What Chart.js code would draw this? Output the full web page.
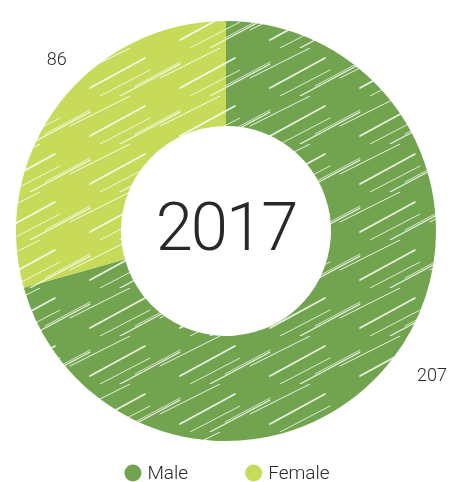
<!DOCTYPE html>
<html><head><meta charset="utf-8">
<script src="https://cdn.jsdelivr.net/npm/chart.js@4/dist/chart.umd.min.js"></script>
<style>html,body{margin:0;padding:0;background:#fff}#wrap{width:452px;height:482px}</style>
</head><body><div id="wrap"><canvas id="c" width="452" height="482"></canvas></div>
<script>
const categories = ["Male", "Female"];
const values = [207, 86];
const centerTitle = "2017";
const colors = ["#72a44f", "#c8da5a"];

function sketchPattern(col){
  const p = document.createElement('canvas');
  p.width = 90; p.height = 48;
  const g = p.getContext('2d');
  g.fillStyle = col; g.fillRect(0,0,90,48);
  g.strokeStyle = 'rgba(255,255,255,0.85)';
  g.lineCap = 'round';
  const lines = [[0,40,55,10,1.6],[30,48,90,16,1.2],[-20,30,40,0,1],[45,38,90,14,0.8],[10,48,60,22,0.9]];
  for(const [x1,y1,x2,y2,w] of lines){g.lineWidth=w;
    for(const off of [-90,0,90]){g.beginPath();g.moveTo(x1+off,y1);g.lineTo(x2+off,y2);g.stroke();}}
  return g.createPattern(p,'repeat');
}

const FONT = 'Roboto, "Open Sans", sans-serif';
const TEXT = '#2b2728';
const labelTweak = [{da:-2, dr:42},{da:8, dr:30}];
const extras = {
  id:'extras',
  afterDraw(chart){
    const ctx = chart.ctx;
    const meta = chart.getDatasetMeta(0);
    const a0 = meta.data[0];
    ctx.save();
    ctx.fillStyle = TEXT;
    ctx.textAlign = 'center'; ctx.textBaseline = 'middle';
    ctx.font = '300 67px ' + FONT;
    if ('letterSpacing' in ctx) ctx.letterSpacing = '-2px';
    ctx.fillText(centerTitle, a0.x, a0.y + 2);
    if ('letterSpacing' in ctx) ctx.letterSpacing = '0px';
    ctx.font = '300 18px ' + FONT;
    meta.data.forEach((arc,i)=>{
      const mid = (arc.startAngle + arc.endAngle)/2 + labelTweak[i].da*Math.PI/180;
      const r = arc.outerRadius + labelTweak[i].dr;
      ctx.fillText(String(values[i]), arc.x + Math.cos(mid)*r, arc.y + Math.sin(mid)*r);
    });
    // legend
    ctx.font = '300 19px ' + FONT;
    ctx.textAlign = 'left';
    const rad = 8.5, gap = 6, spacing = 57;
    const widths = categories.map(c => 2*rad + gap + ctx.measureText(c).width);
    const total = widths.reduce((a,b)=>a+b,0) + spacing*(categories.length-1);
    let x = chart.width/2 - total/2 + 1;
    const y = 473;
    categories.forEach((c,i)=>{
      ctx.fillStyle = colors[i];
      ctx.beginPath(); ctx.arc(x+rad, y, rad, 0, Math.PI*2); ctx.fill();
      ctx.fillStyle = TEXT;
      ctx.fillText(c, x + 2*rad + gap, y + 1);
      x += widths[i] + spacing;
    });
    ctx.restore();
  }
};

new Chart(document.getElementById('c'), {
  type:'doughnut',
  data:{labels:categories, datasets:[{data:values, backgroundColor:colors.map(sketchPattern), borderWidth:0}]},
  options:{
    responsive:false, animation:false, cutout:'50%',
    layout:{padding:{top:21,bottom:41}},
    plugins:{ tooltip:{enabled:false}, legend:{display:false} }
  },
  plugins:[extras]
});
</script></body></html>
